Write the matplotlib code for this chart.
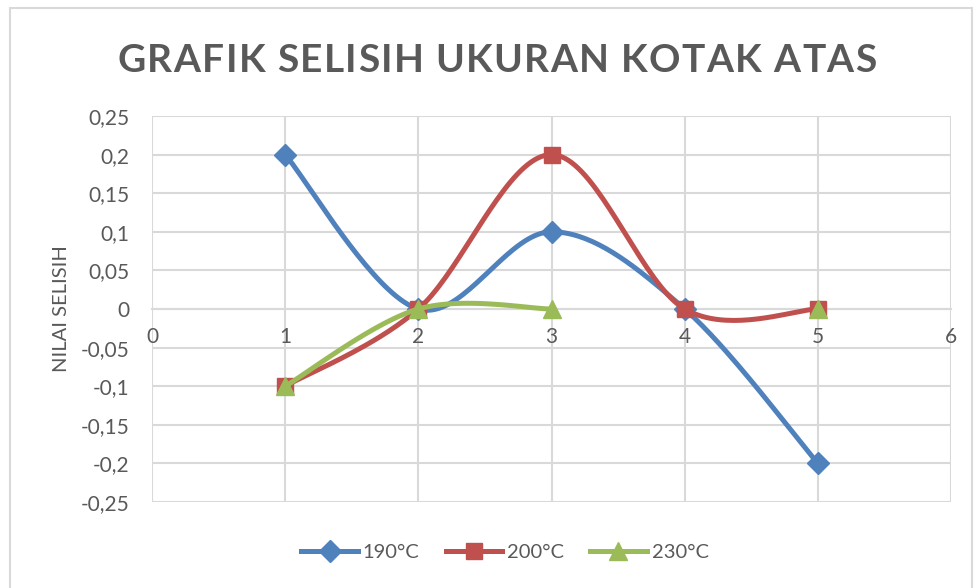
import numpy as np
import matplotlib
matplotlib.use("Agg")
import matplotlib.pyplot as plt
from matplotlib.lines import Line2D
from matplotlib.patches import Rectangle

plt.rcParams['font.family'] = ['Lato', 'DejaVu Sans']

# ---- data ----
x_values = [1, 2, 3, 4, 5]
s190 = [0.2, 0.0, 0.1, 0.0, -0.2]
s200 = [-0.1, 0.0, 0.2, 0.0, 0.0]
s230 = [-0.1, 0.0, 0.0, None, 0.0]
series_names = ["190°C", "200°C", "230°C"]
y_ticks = [-0.25, -0.2, -0.15, -0.1, -0.05, 0, 0.05, 0.1, 0.15, 0.2, 0.25]
x_ticks = [0, 1, 2, 3, 4, 5, 6]
title = "GRAFIK SELISIH UKURAN KOTAK ATAS"
y_label = "NILAI SELISIH"

colors = ["#4F81BD", "#C0504D", "#9BBB59"]
markers = ["D", "s", "^"]
msizes = [11, 12, 13]
grid_c = "#D9D9D9"
text_c = "#595959"


def smooth(xs, ys, n=40):
    """Spreadsheet-style smoothed line: cubic Bezier through the points."""
    pts = np.column_stack([xs, ys]).astype(float)
    if len(pts) < 2:
        return pts[:, 0], pts[:, 1]
    out = []
    for i in range(len(pts) - 1):
        p0 = pts[i - 1] if i > 0 else pts[i]
        p1 = pts[i]
        p2 = pts[i + 1]
        p3 = pts[i + 2] if i + 2 < len(pts) else pts[i + 1]
        c1 = p1 + (p2 - p0) / 6.0
        c2 = p2 - (p3 - p1) / 6.0
        t = np.linspace(0, 1, n)[:, None]
        seg = ((1 - t) ** 3) * p1 + 3 * ((1 - t) ** 2) * t * c1 + 3 * (1 - t) * t ** 2 * c2 + t ** 3 * p2
        out.append(seg if i == 0 else seg[1:])
    out = np.vstack(out)
    return out[:, 0], out[:, 1]


def runs(xs, ys):
    """Split a series at missing values."""
    cur_x, cur_y = [], []
    for x, y in zip(xs, ys):
        if y is None:
            if cur_x:
                yield cur_x, cur_y
            cur_x, cur_y = [], []
        else:
            cur_x.append(x)
            cur_y.append(y)
    if cur_x:
        yield cur_x, cur_y


W, H = 976, 588
fig = plt.figure(figsize=(W / 100, H / 100), dpi=100)
ax = fig.add_axes([152 / W, 1 - 502 / H, (951 - 152) / W, (502 - 116) / H])

for k, ys in enumerate([s190, s200, s230]):
    for rx, ry in runs(x_values, ys):
        sx, sy = smooth(rx, ry)
        ax.plot(sx, sy, color=colors[k], lw=3.6, solid_capstyle='round', zorder=3 + k)
        ax.plot(rx, ry, linestyle='none', marker=markers[k], ms=msizes[k],
                color=colors[k], mec=colors[k], zorder=3 + k)

ax.set_xlim(0, 6)
ax.set_ylim(-0.25, 0.25)
ax.set_xticks(x_ticks)
ax.set_yticks(y_ticks)
ax.set_xticklabels([str(v) for v in x_ticks])
ax.set_yticklabels([("%g" % v).replace(".", ",") for v in y_ticks])
ax.grid(True, color=grid_c, lw=1.5, zorder=0)
ax.set_axisbelow(True)
for side in ["top", "right", "left"]:
    ax.spines[side].set_visible(False)
ax.spines["bottom"].set_position(("data", 0))
ax.spines["bottom"].set_color(grid_c)
ax.spines["bottom"].set_linewidth(1.5)
ax.tick_params(axis='both', length=0, labelsize=15, labelcolor=text_c)
ax.tick_params(axis='y', pad=16)
ax.tick_params(axis='x', pad=13)
ax.set_ylabel(y_label, fontsize=14.5, color=text_c, labelpad=8)

# letter-spaced title
fig.canvas.draw()
renderer = fig.canvas.get_renderer()
fs = 28
spacing = 1.4
pieces = []
total = 0.0
for ch in title:
    t = fig.text(0, 0, ch if ch != " " else "I", fontsize=fs, fontweight='bold', color=text_c)
    w = t.get_window_extent(renderer).width
    if ch == " ":
        w *= 0.8
        t.remove()
        t = None
    pieces.append((t, w))
    total += w + spacing
total -= spacing
x0 = 497 - total / 2
for t, w in pieces:
    if t is not None:
        t.set_position((x0 / W, 1 - 72 / H))
    x0 += w + spacing

# legend
handles = [Line2D([0], [0], color=colors[k], lw=3.6, marker=markers[k], ms=msizes[k])
           for k in range(3)]
fig.legend(handles, series_names, loc='center', bbox_to_anchor=(505 / W, 1 - 552 / H),
           ncol=3, frameon=False, fontsize=14.5, labelcolor=text_c, handlelength=2.8,
           handletextpad=0.25, columnspacing=1.3)

# chart frame
fig.add_artist(Rectangle((10 / W, -0.05), (972 - 10) / W, 580 / H + 0.05,
                         transform=fig.transFigure, fill=False, edgecolor=grid_c, lw=1.5))

fig.savefig("out.png", dpi=100)
